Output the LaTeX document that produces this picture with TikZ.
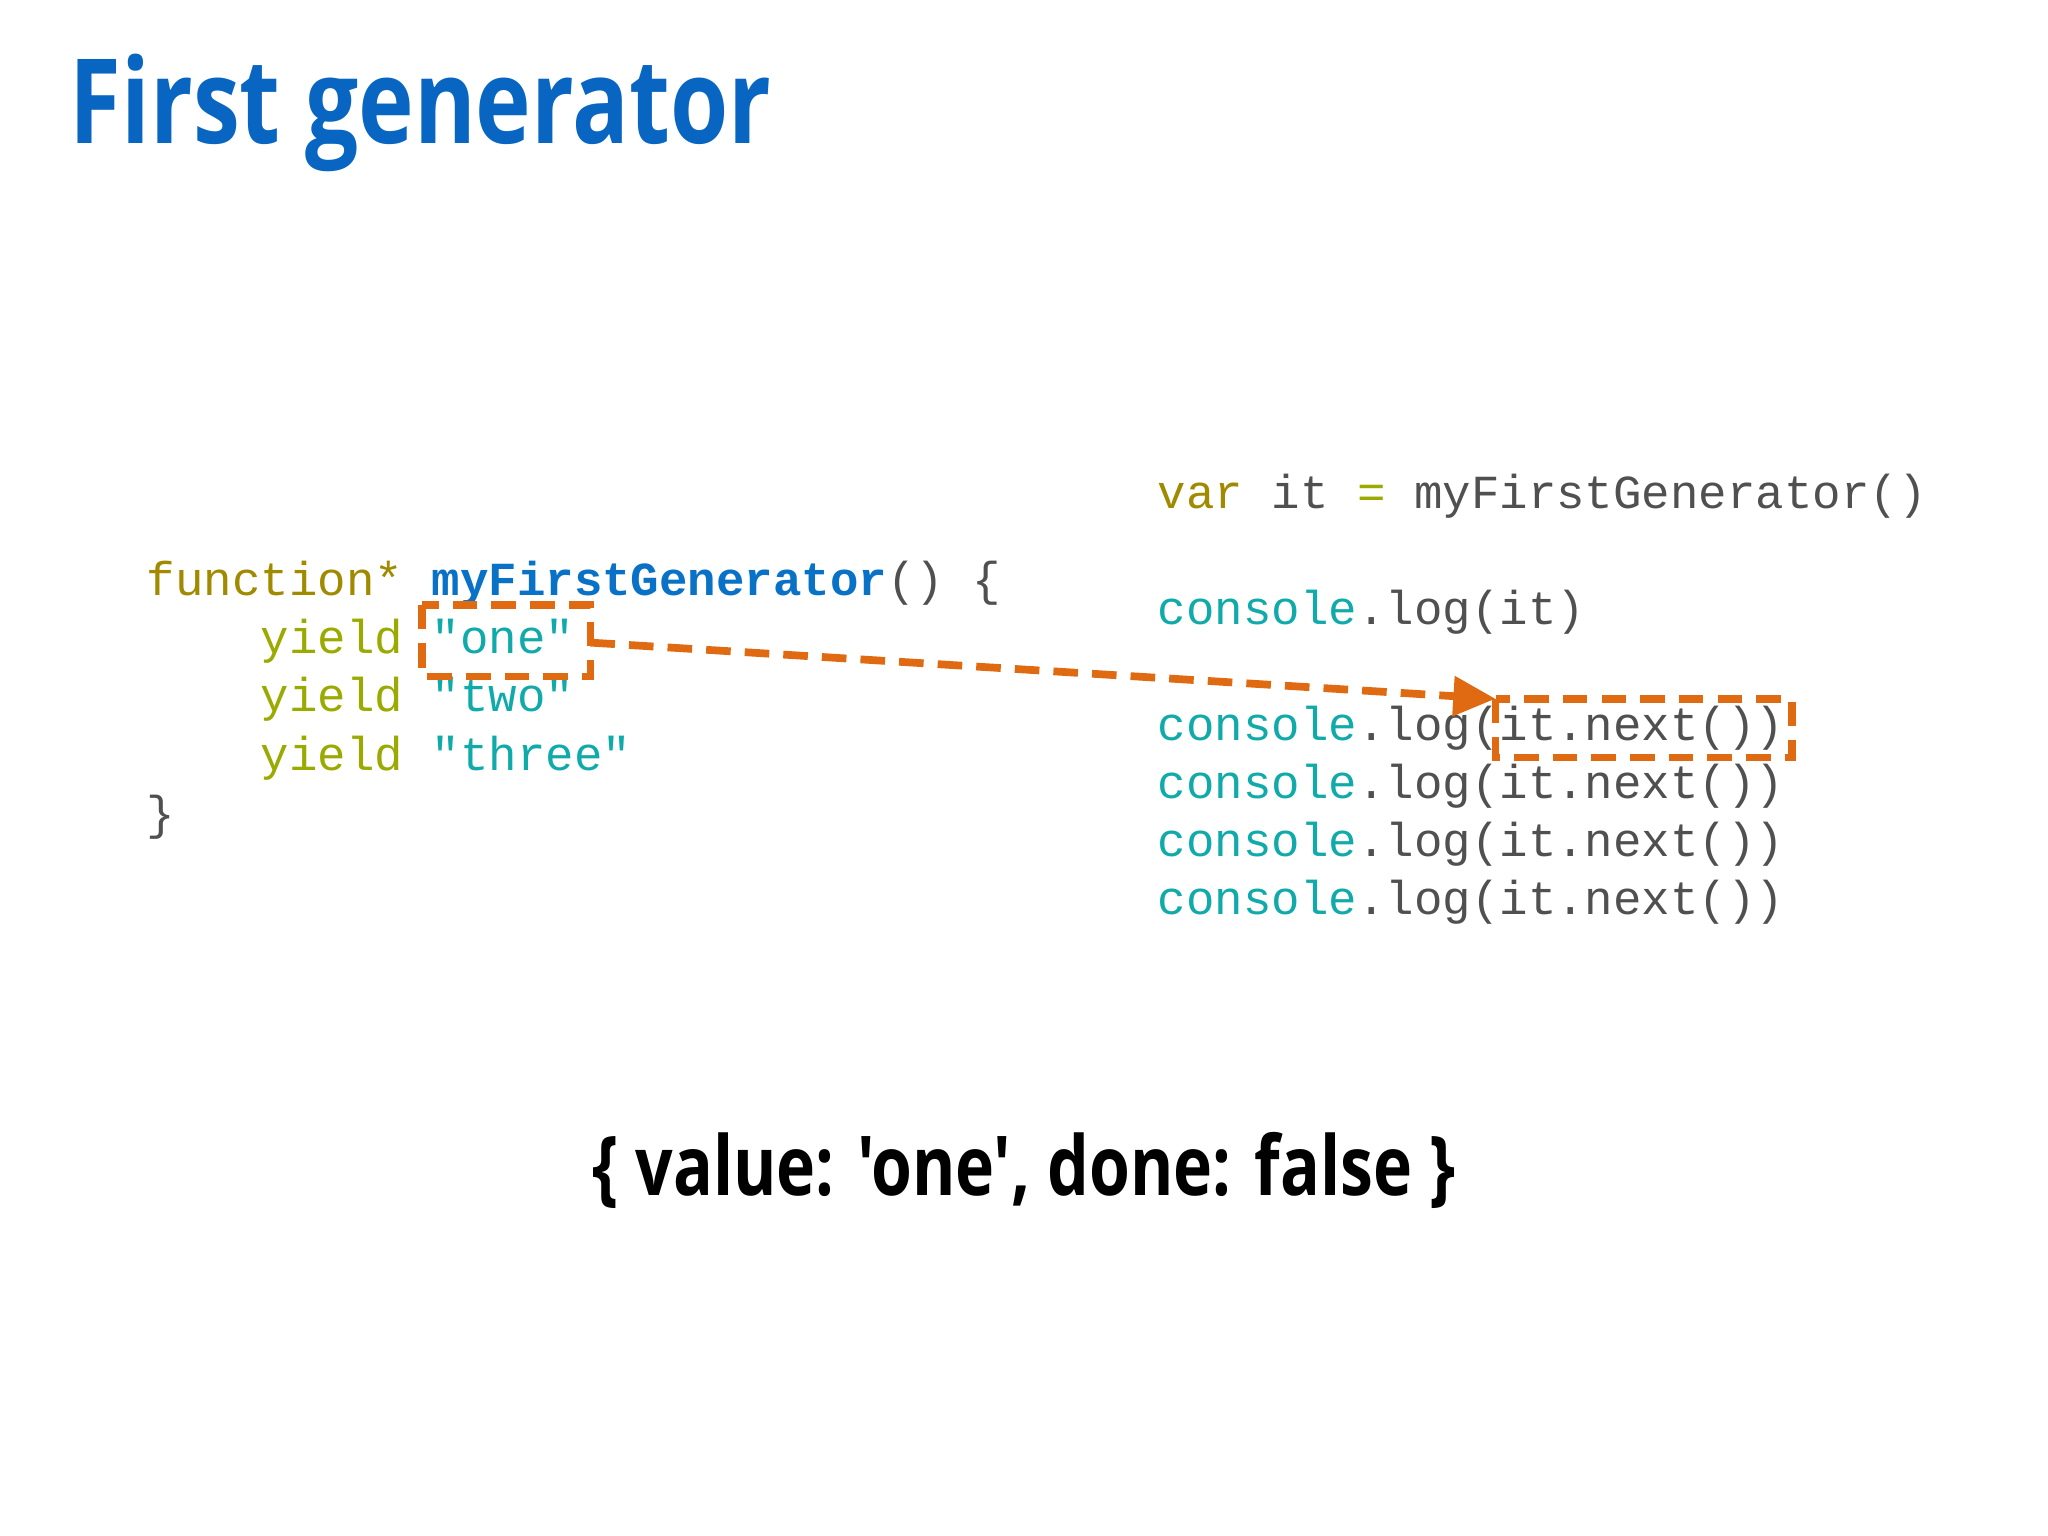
\documentclass[tikz,border=0pt]{standalone}
\usepackage{fontspec}
\setmainfont{Open Sans}
\setmonofont{Liberation Mono}
\newfontfamily\titlefont[FakeStretch=0.8]{Open Sans Bold}
\usetikzlibrary{arrows.meta}
\definecolor{kw}{HTML}{A08A00}
\definecolor{yl}{HTML}{9AAA00}
\definecolor{st}{HTML}{10AAAA}
\definecolor{fn}{HTML}{0A72C6}
\definecolor{tx}{HTML}{505050}
\definecolor{org}{HTML}{E06A12}
\definecolor{ttl}{HTML}{0866C2}
\begin{document}
\begin{tikzpicture}[x=0.013061cm,y=-0.013061cm,
  code/.style={anchor=base west,inner sep=0pt,font=\ttfamily\fontsize{13.5}{16}\selectfont,text=tx},
  hl/.style={draw=org,line width=2.2pt,dash pattern=on 7pt off 4pt}]
\useasboundingbox (0,0) rectangle (1568,1176);
\node[anchor=base west,inner sep=0pt,text=ttl,font=\titlefont\fontsize{33.5}{36}\selectfont] (title) at (53,110) {First generator};
\node[code] (l1) at (112,456) {\textcolor{kw}{function*} \textcolor{fn}{\bfseries myFirstGenerator}() \{};
\node[code] (l2) at (112,500) {\hphantom{xxxx}\textcolor{yl}{yield} \textcolor{st}{"one"}};
\node[code] (l3) at (112,545) {\hphantom{xxxx}\textcolor{yl}{yield} \textcolor{st}{"two"}};
\node[code] (l4) at (112,590) {\hphantom{xxxx}\textcolor{yl}{yield} \textcolor{st}{"three"}};
\node[code] (l5) at (112,635) {\}};
\node[code] (r1) at (886,389) {\textcolor{kw}{var} it \textcolor{yl}{=} myFirstGenerator()};
\node[code] (r2) at (886,478) {\textcolor{st}{console}.log(it)};
\node[code] (r3) at (886,567) {\textcolor{st}{console}.log(it.next())};
\node[code] (r4) at (886,611) {\textcolor{st}{console}.log(it.next())};
\node[code] (r5) at (886,656) {\textcolor{st}{console}.log(it.next())};
\node[code] (r6) at (886,700) {\textcolor{st}{console}.log(it.next())};
\coordinate (b1nw) at (323,463);
\coordinate (b1se) at (452,518);
\coordinate (b1e) at (452,492);
\coordinate (b2nw) at (1145,535);
\coordinate (b2se) at (1372,580);
\draw[hl] (b1nw) rectangle (b1se);
\draw[hl] (b2nw) rectangle (b2se);
\draw[org,line width=2.2pt,dash pattern=on 7pt off 4pt,-{Triangle[length=12pt,width=11pt]}] (b1e) -- (b2nw);
\node[anchor=base,inner sep=0pt,text=black,font=\titlefont\fontsize{23.5}{26}\selectfont] (res) at (784,915) {\{ value: 'one', done: false \}};
\end{tikzpicture}
\end{document}
